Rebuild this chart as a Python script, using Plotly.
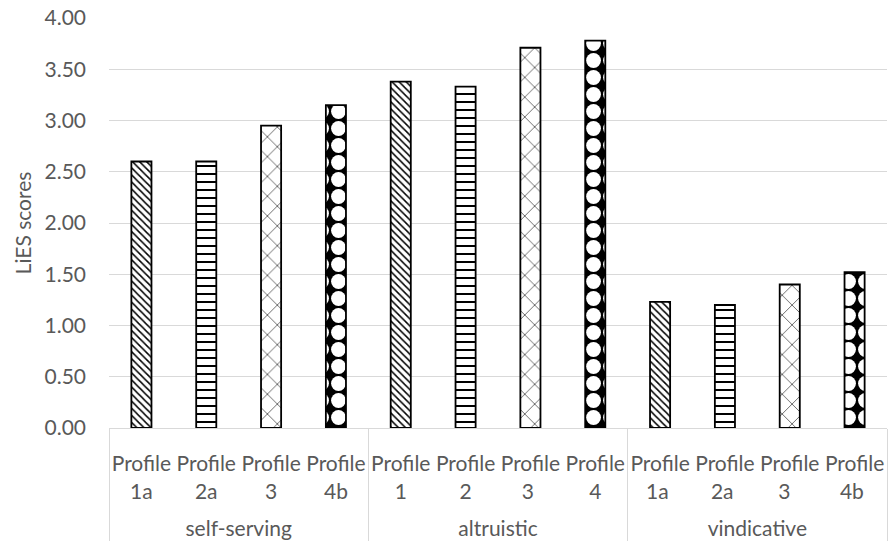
import plotly.graph_objects as go

groups = ["<br>self-serving"] * 4 + ["<br>altruistic"] * 4 + ["<br>vindicative"] * 4
profiles = ["Profile<br>1a", "Profile<br>2a", "Profile<br>3", "Profile<br>4b",
            "Profile<br>1", "Profile<br>2", "Profile<br>3 ", "Profile<br>4",
            "Profile<br>1a ", "Profile<br>2a ", "Profile<br>3  ", "Profile<br>4b "]
values = [2.60, 2.60, 2.95, 3.15, 3.38, 3.33, 3.71, 3.78, 1.23, 1.20, 1.40, 1.52]
shapes_ = ["\\", "-", "x", "."] * 3
y_ticks = [0, 0.5, 1, 1.5, 2, 2.5, 3, 3.5, 4]

sizes = [5, 8, 14, 17] * 3
solid = [0.3, 0.25, 0.08, 0.6] * 3
fgc = ["black", "black", "black", "white"] * 3
bgc = ["white", "white", "white", "black"] * 3

fig = go.Figure()
fig.add_trace(go.Bar(
    x=[groups, profiles], y=values,
    marker=dict(color="white",
                line=dict(color="black", width=1.8),
                pattern=dict(shape=shapes_, fgcolor=fgc, bgcolor=bgc, fgopacity=1,
                             size=sizes, solidity=solid, fillmode="replace")),
))
fig.update_layout(
    width=888, height=546,
    margin=dict(l=109, r=1, t=18, b=118),
    plot_bgcolor="white", paper_bgcolor="white",
    bargap=0.69, showlegend=False,
    font=dict(family="Lato, 'Open Sans', sans-serif", size=21, color="#595959"),
)
fig.update_yaxes(range=[0, 4], tickvals=y_ticks, tickformat=".2f",
                 showgrid=True, gridcolor="#d9d9d9", gridwidth=1.3,
                 zeroline=False, showline=False, ticks="",
                 ticklabelstandoff=22, automargin=False,
                 title=dict(text="LiES scores", font=dict(size=21, color="#595959"), standoff=7),
                 tickfont=dict(size=21))
fig.update_xaxes(showline=True, linecolor="#d9d9d9", linewidth=1.3,
                 showdividers=True, dividercolor="#d9d9d9", dividerwidth=1.3,
                 automargin=False, tickangle=0, ticklabelstandoff=17,
                 tickfont=dict(size=21), ticks="")
fig.write_html("out.html", config={"displayModeBar": False},
               post_script="document.body.style.margin='0';")
